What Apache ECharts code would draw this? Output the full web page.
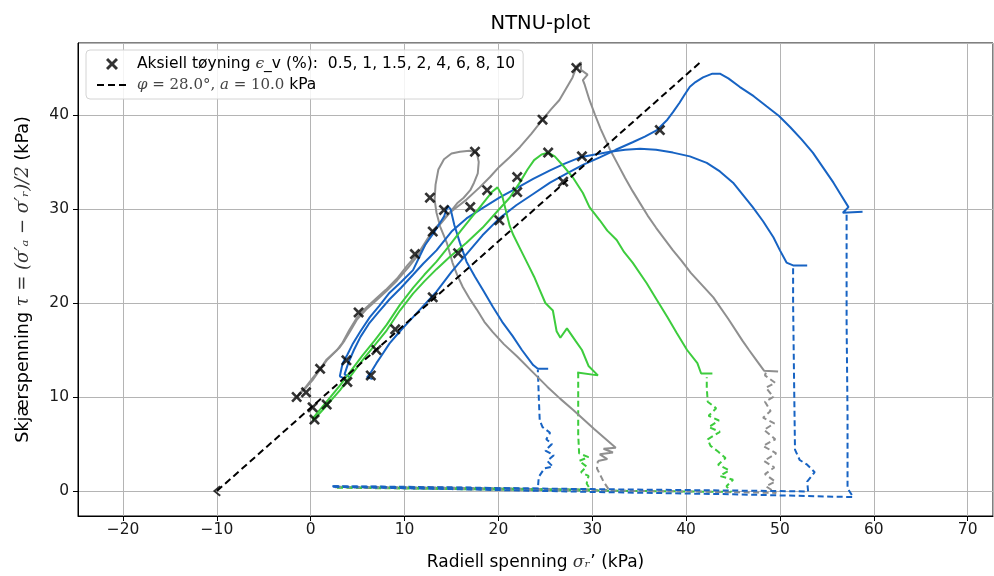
<!DOCTYPE html>
<html>
<head>
<meta charset="utf-8">
<script src="https://cdn.jsdelivr.net/npm/echarts@6/dist/echarts.min.js"></script>
<style>html,body{margin:0;padding:0;background:#fff}#c{width:994px;height:576px}</style>
</head>
<body>
<div id="c"></div>
<script>
// ---------- data (sigma_r' , tau) in kPa ----------
const failureLine = [[-10, 0], [41.5, 45.6]];
const failureStart = [[-10, 0]];

const b1Cons = [[2.3,0.5],[10,0.45],[18,0.35],[24.2,0.25],[24.3,1.5],[24.9,2.4],[25.8,2.6],[25.2,3.2],[25.9,3.8],[25.0,4.3],[25.7,5.0],[25.1,5.5],[25.5,6.2],[24.7,6.8],[24.4,7.5],[24.3,10],[24.2,12.9]];
const b1Shear = [[25.3,13.0],[24.2,13.0],[23.7,13.4],[22.5,15.0],[21.5,16.5],[20.4,18.0],[19.4,19.6],[18.4,21.3],[17.5,22.8],[16.6,24.4],[15.9,26.4],[15.3,28.3],[14.9,30.0],[14.6,30.3],[14.2,29.2],[13.2,27.6],[12.2,26.2],[10.9,23.5],[9.6,22.2],[8.4,21.1],[7.3,19.7],[6.3,18.5],[5.3,17.0],[4.5,15.7],[3.9,14.5],[3.4,13.6],[3.1,12.2],[3.7,11.9]];

const b2Cons = [[2.4,0.5],[15,0.35],[30,0.2],[45,0.05],[53.0,-0.05],[52.9,1.0],[53.7,2.0],[52.9,2.8],[52.1,3.3],[51.6,4.4],[51.5,12],[51.4,20],[51.4,23.8]];
const b2Shear = [[52.9,24.0],[51.4,24.0],[50.7,24.3],[50.0,25.6],[49.3,27.0],[48.2,28.7],[47.1,30.2],[45.0,32.8],[43.6,34.0],[42.2,34.9],[40.4,35.6],[38.6,36.0],[36.8,36.3],[35.1,36.4],[33.5,36.3],[31.9,36.1],[30.3,35.8],[28.7,35.5],[27.0,34.8],[25.5,34.1],[23.7,33.2],[21.9,32.2],[20.1,31.2],[18.3,30.1],[16.6,29.0],[15.0,27.6],[13.4,25.6],[12.0,24.2],[10.9,23.0],[9.6,21.6],[8.4,20.4],[7.2,19.0],[6.2,17.8],[5.3,16.4],[4.6,15.0],[4.0,13.6],[3.6,12.4],[4.2,12.1]];

const b3Cons = [[2.4,0.45],[15,0.2],[30,-0.1],[45,-0.35],[57.8,-0.65],[57.2,0.3],[57.2,8],[57.1,18],[57.1,29.6]];
const b3Shear = [[58.8,29.7],[56.7,29.6],[57.3,30.2],[56.5,31.5],[55.7,32.8],[54.6,34.4],[53.5,36.0],[52.3,37.4],[51.1,38.7],[49.9,39.9],[48.6,40.9],[47.2,42.0],[45.7,43.0],[44.5,43.9],[43.6,44.4],[42.8,44.4],[41.8,44.0],[41.0,43.5],[40.4,43.0],[39.8,42.1],[39.3,41.3],[38.6,40.3],[38.0,39.5],[36.9,38.4],[35.6,37.7],[34.3,37.1],[32.5,36.3],[30.8,35.5],[29.0,34.7],[27.3,33.8],[25.5,32.8],[23.7,31.6],[21.9,30.4],[20.1,29.0],[18.3,27.2],[16.6,25.2],[15.0,23.3],[13.4,21.2],[12.1,19.8],[10.9,18.5],[9.6,17.1],[8.4,15.7],[7.6,14.5],[7.0,13.6],[6.4,12.6],[6.0,12.1],[6.6,11.9]];

const gr1Cons = [[2.8,0.4],[15,0.3],[29.8,0.15],[29.4,0.8],[29.6,1.6],[28.8,2.0],[29.4,2.6],[28.6,3.2],[29.6,3.6],[28.6,4.0],[28.5,6],[28.5,12.6]];
const gr1Shear = [[28.4,12.6],[30.6,12.3],[29.6,13.3],[28.9,15.0],[28.2,16.0],[27.3,17.3],[26.6,16.3],[26.2,17.0],[25.8,19.2],[25.0,20.0],[24.4,21.4],[23.8,22.8],[23.2,24.0],[22.4,25.6],[21.6,27.2],[21.2,28.2],[20.8,29.8],[20.4,31.4],[19.9,32.3],[19.3,31.8],[18.2,30.4],[17.2,29.2],[16.0,27.7],[14.6,25.9],[13.4,24.4],[12.1,23.0],[10.9,21.6],[9.5,19.8],[8.1,17.7],[6.8,16.0],[5.5,14.4],[4.3,12.8],[3.1,11.2],[1.7,9.5],[0.7,8.3],[0.2,7.7]];

const gr2Cons = [[2.8,0.35],[20,0.15],[44.8,-0.1],[44.3,0.5],[45.0,1.2],[43.6,1.6],[44.6,2.2],[43.4,2.8],[44.2,3.5],[43.4,4.2],[42.6,4.8],[42.3,5.5],[43.6,6.3],[42.4,6.8],[43.5,7.5],[42.4,8.0],[43.2,8.8],[42.3,9.5],[42.2,11],[42.2,12.1]];
const gr2Shear = [[42.8,12.5],[41.6,12.5],[41.2,13.6],[40.1,15.0],[39.0,16.8],[38.0,18.5],[36.9,20.3],[35.8,22.1],[34.3,24.3],[33.4,25.4],[32.6,26.7],[31.6,27.7],[30.8,28.8],[29.7,30.2],[29.0,31.7],[27.9,33.4],[26.9,34.6],[26.0,35.6],[25.3,36.0],[24.6,35.8],[23.8,35.2],[23.1,34.2],[22.2,32.7],[21.2,31.2],[20.1,30.0],[18.3,28.0],[16.6,26.4],[14.8,24.9],[13.4,23.6],[12.1,22.3],[10.9,21.0],[9.5,19.2],[8.1,17.1],[6.8,15.5],[5.5,13.9],[4.3,12.3],[3.1,10.7],[1.7,9.1],[0.8,8.1],[0.2,7.5]];

const g1Cons = [[2.6,0.45],[15,0.35],[25,0.2],[31.8,0.1],[31.2,1.0],[30.5,2.4],[30.6,3.2]];
const g1Shear = [[30.6,3.2],[31.6,3.4],[30.8,3.9],[32.2,4.1],[31.2,4.5],[32.5,4.6],[30.2,6.6],[28.0,8.6],[26.6,9.8],[25.2,11.1],[23.6,12.7],[22.0,14.3],[20.6,15.6],[19.4,16.9],[18.5,18.0],[17.7,19.3],[16.9,20.5],[16.2,21.7],[15.6,23.0],[15.1,24.3],[14.5,26.4],[13.8,28.1],[13.4,29.6],[13.2,31.0],[13.3,32.6],[13.6,34.2],[14.2,35.3],[15.0,35.9],[15.9,36.1],[16.9,36.2],[17.7,36.0],[17.9,35.0],[17.8,33.8],[17.4,32.8],[17.0,32.0],[16.3,31.2],[15.6,30.6],[14.8,29.6],[13.9,28.5],[13.0,27.5],[12.2,26.2],[11.6,25.3],[10.4,23.8],[9.2,22.4],[8.1,21.3],[7.0,20.3],[5.9,19.3],[4.9,18.2],[4.2,17.0],[3.6,16.0],[3.1,15.3],[2.4,14.6],[1.7,13.9],[0.9,12.8],[0.2,11.8],[-0.6,10.9],[-1.5,10.0]];

const g2Cons = [[2.6,0.4],[20,0.15],[40,-0.05],[49.6,-0.2],[48.5,0.5],[49.5,1.0],[48.4,1.8],[49.4,2.5],[48.3,3.2],[49.6,4.0],[48.2,4.8],[49.5,5.5],[48.3,6.5],[49.4,7.2],[48.2,7.8],[49.0,8.5],[48.4,9.5],[49.3,10.0],[48.5,11.0],[49.5,11.5],[48.4,12.3],[48.6,12.9]];
const g2Shear = [[49.8,12.7],[48.3,12.8],[47.5,13.9],[46.7,15.0],[46.0,16.0],[44.5,18.3],[42.9,20.6],[41.7,21.9],[40.5,23.2],[39.5,24.5],[38.6,25.6],[37.7,26.8],[36.8,28.0],[35.9,29.3],[35.1,30.6],[34.3,31.9],[33.5,33.3],[32.7,34.8],[31.9,36.3],[31.4,37.4],[30.9,38.5],[30.3,40.0],[29.7,41.6],[29.2,43.2],[29.0,43.7],[29.5,44.3],[28.8,44.8],[28.8,45.6],[28.4,45.3],[28.2,44.8],[27.9,44.0],[27.2,42.8],[26.5,41.6],[25.6,40.6],[24.7,39.5],[23.5,38.0],[22.3,36.6],[21.2,35.5],[20.1,34.5],[19.1,33.4],[18.0,32.3],[16.6,31.0],[14.8,29.6],[13.0,27.7],[11.6,25.5],[10.3,24.0],[9.2,22.6],[8.0,21.4],[7.0,20.5],[5.9,19.5],[4.9,18.4],[4.1,17.1],[3.4,15.8],[2.8,15.0],[1.7,14.0],[1.0,13.0],[0.2,12.0],[-0.5,11.1],[-1.3,10.3]];

const strainMarkers = [[28.3,45.0],[24.7,39.5],[37.2,38.4],[28.9,35.6],[25.3,36.0],[17.5,36.1],[12.7,31.2],[14.2,29.9],[18.8,32.0],[22.0,33.4],[22.0,31.8],[20.1,28.8],[26.9,32.9],[17.0,30.2],[13.0,27.6],[15.7,25.3],[11.1,25.2],[13.0,20.6],[9.0,17.2],[7.0,15.0],[6.4,12.3],[5.1,19.0],[3.8,13.9],[3.9,11.6],[1.0,13.0],[-0.5,10.5],[-1.5,10.0],[0.2,8.9],[1.7,9.2],[0.4,7.6]];

const titleText = 'NTNU-plot';
const xTitle = 'Radiell spenning ';
const yTitle = 'Skjærspenning ';
const legendStrainLabel = 'Aksiell tøyning ';
const legendStrainValues = '_v (%):  0.5, 1, 1.5, 2, 4, 6, 8, 10';

// ---------- styling ----------
const BLUE = '#1763c3', GRAY = '#8f8f8f', GREEN = '#3dcc3d';
const X_PATH = 'path://M0,1.7 L1.7,0 L5,3.3 L8.3,0 L10,1.7 L6.7,5 L10,8.3 L8.3,10 L5,6.7 L1.7,10 L0,8.3 L3.3,5 Z';
const LT_PATH = 'path://M6.2,0 L7.5,1.3 L2.6,5 L7.5,8.7 L6.2,10 L0,5 Z';

function cons(name, data, color) {
  return { name, type: 'line', data, symbol: 'none', silent: true, z: 2,
    lineStyle: { color, width: 2, type: [6, 3.5] } };
}
function shear(name, data, color) {
  return { name, type: 'line', data, symbol: 'none', silent: true, z: 3,
    lineStyle: { color, width: 2 } };
}
const minus = v => String(v).replace('-', '\u2212');

const chart = echarts.init(document.getElementById('c'), null, { renderer: 'canvas' });
chart.setOption({
  animation: false,
  backgroundColor: '#fff',
  title: {
    text: titleText, left: 535.5, top: 9, textAlign: 'center',
    textStyle: { fontFamily: 'DejaVu Sans', fontSize: 19.5, fontWeight: 'normal', color: '#000' }
  },
  grid: { left: 78, right: 1, top: 43, bottom: 60, show: true, borderColor: '#000', borderWidth: 1, outerBoundsMode: 'none' },
  legend: {
    left: 86, top: 50, orient: 'vertical', itemGap: 5, itemWidth: 30, itemHeight: 12,
    padding: [6, 8, 6, 10], borderColor: '#d4d4d4', borderWidth: 1, borderRadius: 4,
    backgroundColor: 'rgba(255,255,255,0.85)',
    data: ['strain', 'failure'],
    formatter: n => n === 'strain'
      ? '{t| ' + legendStrainLabel + '}{m|ϵ}{t|' + legendStrainValues + '}'
      : '{t| }{mi|φ}{ms| = 28.0°, }{mi|a}{ms| = 10.0 }{t|kPa}',
    textStyle: {
      fontFamily: 'DejaVu Sans', fontSize: 15.5, color: '#000',
      rich: {
        t: { fontFamily: 'DejaVu Sans', fontSize: 15.5, color: '#000' },
        m: { fontFamily: 'DejaVu Serif', fontStyle: 'italic', fontSize: 15.5, color: '#333' },
        mi: { fontFamily: 'DejaVu Serif', fontStyle: 'italic', fontSize: 15, color: '#444' },
        ms: { fontFamily: 'DejaVu Serif', fontSize: 15, color: '#444' }
      }
    }
  },
  xAxis: {
    type: 'value', min: -24.8, max: 72.7, splitNumber: 10,
    name: '{t|' + xTitle + '}{m|σᵣ}{t|’ (kPa)}', nameLocation: 'middle', nameGap: 38,
    nameTextStyle: { rich: {
      t: { fontFamily: 'DejaVu Sans', fontSize: 17, color: '#000' },
      m: { fontFamily: 'DejaVu Serif', fontStyle: 'italic', fontSize: 17, color: '#333' } } },
    axisLine: { show: true, onZero: false, lineStyle: { color: '#000', width: 1 } },
    axisTick: { show: true, length: 5, lineStyle: { color: '#000', width: 1 } },
    axisLabel: { showMinLabel: false, showMaxLabel: false, fontFamily: 'DejaVu Sans', fontSize: 15.5, color: '#1a1a1a', margin: 6, formatter: minus },
    splitLine: { show: true, lineStyle: { color: '#b4b4b4', width: 1 } }
  },
  yAxis: {
    type: 'value', min: -2.66, max: 47.66, splitNumber: 5,
    name: '{t|' + yTitle + '}{m|τ = (σ′ₐ − σ′ᵣ)/2}{t| (kPa)}', nameLocation: 'middle', nameGap: 46,
    nameTextStyle: { rich: {
      t: { fontFamily: 'DejaVu Sans', fontSize: 17.5, color: '#000' },
      m: { fontFamily: 'DejaVu Serif', fontStyle: 'italic', fontSize: 18, color: '#333' } } },
    axisLine: { show: true, onZero: false, lineStyle: { color: '#000', width: 1 } },
    axisTick: { show: true, length: 5, lineStyle: { color: '#000', width: 1 } },
    axisLabel: { showMinLabel: false, showMaxLabel: false, fontFamily: 'DejaVu Sans', fontSize: 15.5, color: '#1a1a1a', margin: 9, formatter: minus },
    splitLine: { show: true, lineStyle: { color: '#b4b4b4', width: 1 } }
  },
  series: [
    cons('b1c', b1Cons, BLUE), cons('gr1c', gr1Cons, GREEN), cons('g1c', g1Cons, GRAY),
    cons('gr2c', gr2Cons, GREEN), cons('g2c', g2Cons, GRAY), cons('b2c', b2Cons, BLUE), cons('b3c', b3Cons, BLUE),
    shear('g1s', g1Shear, GRAY), shear('g2s', g2Shear, GRAY),
    shear('b1s', b1Shear, BLUE), shear('b2s', b2Shear, BLUE), shear('b3s', b3Shear, BLUE),
    shear('gr2s', gr2Shear, GREEN), shear('gr1s', gr1Shear, GREEN),
    { name: 'failure', type: 'line', data: failureLine, symbol: 'none', z: 5, silent: true,
      lineStyle: { color: '#000', width: 2, type: [7, 4] }, itemStyle: { color: 'rgba(0,0,0,0)', borderWidth: 0 } },
    { name: 'failureStart', type: 'scatter', data: failureStart, symbol: LT_PATH, symbolSize: [8, 11], z: 6,
      itemStyle: { color: '#000' }, silent: true },
    { name: 'strain', type: 'scatter', data: strainMarkers, symbol: X_PATH, symbolSize: 11, z: 7,
      itemStyle: { color: '#000' }, silent: true }
  ]
});
</script>
</body>
</html>
